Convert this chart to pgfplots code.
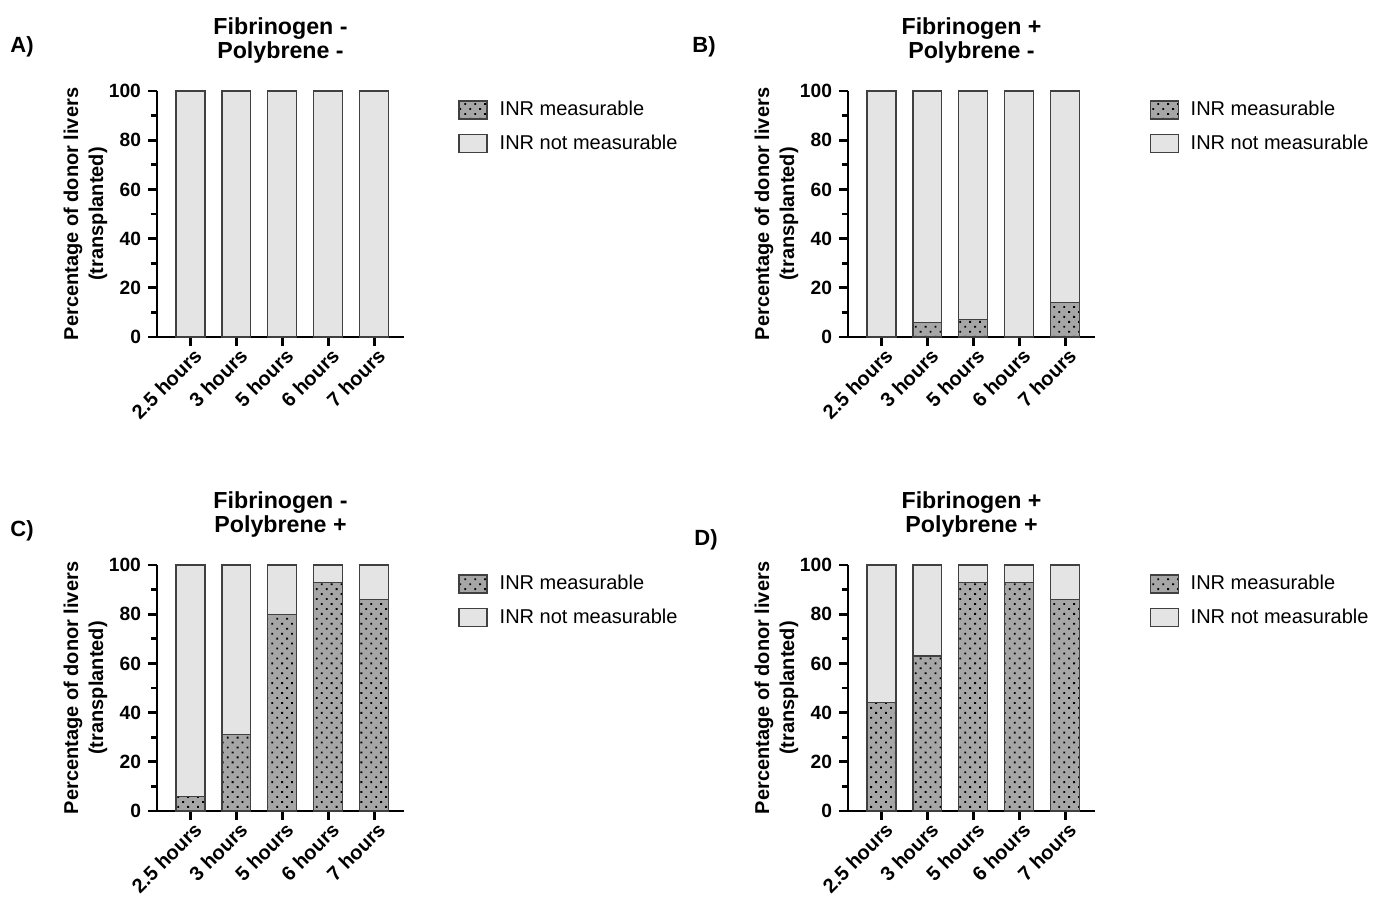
\documentclass[border=0pt]{standalone}
\usepackage{fontspec}
\setmainfont{Liberation Sans}
\usepackage{pgfplots}
\pgfplotsset{compat=1.18}
\usetikzlibrary{patterns.meta}
\definecolor{lightbar}{HTML}{E4E4E4}
\definecolor{darkbar}{HTML}{A6A6A6}
\definecolor{edge}{HTML}{404040}

\pgfplotsset{
  panel/.style={
    scale only axis, width=123.5pt, height=123pt, anchor=south west,
    ybar stacked, bar width=0.63, enlargelimits=false,
    ymin=0, ymax=100, xmin=-0.73, xmax=4.65,
    xtick={0,1,2,3,4},
    xticklabels={2.5 hours,3 hours,5 hours,6 hours,7 hours},
    ytick={0,20,40,60,80,100}, minor y tick num=1,
    axis x line*=bottom, axis y line*=left,
    axis line style={line width=1.4pt, -, black},
    tick style={line width=1.4pt, black},
    major tick length=4.5pt, minor tick length=3pt,
    tick align=outside,
    clip=false,
    /pgf/number format/assume math mode=true,
    yticklabel style={font=\bfseries\fontsize{9.6}{12}\selectfont},
    xticklabel style={font=\bfseries\fontsize{10}{12}\selectfont, rotate=45, anchor=north east, inner sep=0.5pt, xshift=1pt, yshift=-0.5pt},
    ylabel={Percentage of donor livers\\(transplanted)},
    ylabel style={align=center, font=\bfseries\fontsize{10}{12.5}\selectfont},
    ylabel shift=-6pt,
    title style={align=center, font=\bfseries\fontsize{11.6}{12}\selectfont, at={(0.5,1)}, anchor=south, yshift=4.5pt},
    legend style={at={(1.219,0.976)}, anchor=north west, draw=none, fill=none,
      font=\fontsize{10}{12}\selectfont, row sep=4pt, inner sep=0pt,
      nodes={inner sep=2pt}},
    legend cell align=left,
  },
  meas/.style={fill=darkbar, draw=edge, line width=0.6pt,
    postaction={pattern={Dots[distance=3.5pt, angle=45, radius=0.65pt]}, pattern color=black},
    legend image code/.code={\draw[##1] (0pt,-4.5pt) rectangle (14pt,4.5pt); \path (18pt,0pt);}},
  notmeas/.style={fill=lightbar, draw=edge, line width=0.6pt,
    legend image code/.code={\draw[##1] (0pt,-4.5pt) rectangle (14pt,4.5pt); \path (18pt,0pt);}},
}

\begin{document}
\begin{tikzpicture}
\useasboundingbox (0,0) rectangle (695.5pt,448pt);

% A
\begin{axis}[panel, at={(78.5pt,279.5pt)}, title={Fibrinogen -\\Polybrene -}]
\addplot[meas] coordinates {(0,0) (1,0) (2,0) (3,0) (4,0)};
\addplot[notmeas] coordinates {(0,100) (1,100) (2,100) (3,100) (4,100)};
\legend{INR measurable, INR not measurable}
\end{axis}

% B
\begin{axis}[panel, at={(424pt,279.5pt)}, title={Fibrinogen +\\Polybrene -}]
\addplot[meas] coordinates {(0,0) (1,6) (2,7) (3,0) (4,14)};
\addplot[notmeas] coordinates {(0,100) (1,94) (2,93) (3,100) (4,86)};
\legend{INR measurable, INR not measurable}
\end{axis}

% C
\begin{axis}[panel, at={(78.5pt,42.5pt)}, title={Fibrinogen -\\Polybrene +}]
\addplot[meas] coordinates {(0,6) (1,31) (2,80) (3,93) (4,86)};
\addplot[notmeas] coordinates {(0,94) (1,69) (2,20) (3,7) (4,14)};
\legend{INR measurable, INR not measurable}
\end{axis}

% D
\begin{axis}[panel, at={(424pt,42.5pt)}, title={Fibrinogen +\\Polybrene +}]
\addplot[meas] coordinates {(0,44) (1,63) (2,93) (3,93) (4,86)};
\addplot[notmeas] coordinates {(0,56) (1,37) (2,7) (3,7) (4,14)};
\legend{INR measurable, INR not measurable}
\end{axis}

\node[font=\bfseries\fontsize{11}{13}\selectfont] at (11pt,424.5pt) {A)};
\node[font=\bfseries\fontsize{11}{13}\selectfont] at (352pt,424.5pt) {B)};
\node[font=\bfseries\fontsize{11}{13}\selectfont] at (11pt,182.5pt) {C)};
\node[font=\bfseries\fontsize{11}{13}\selectfont] at (353pt,178pt) {D)};
\end{tikzpicture}
\end{document}
